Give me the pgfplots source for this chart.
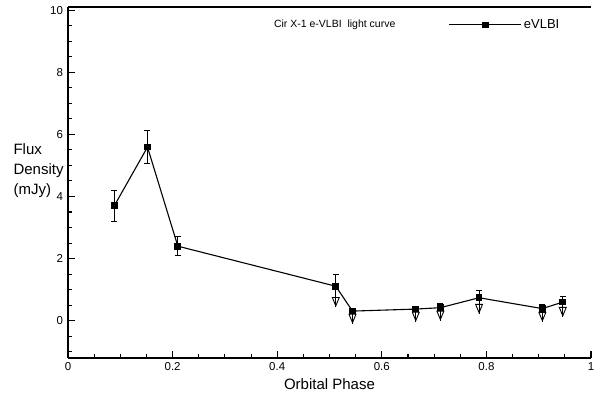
\documentclass[border=0pt]{standalone}
\usepackage{pgfplots}
\pgfplotsset{compat=1.18}
\usepackage{pgfplotstable}
\usepackage{fontspec}
\setmainfont{Liberation Sans}
\usetikzlibrary{arrows.meta}

\pgfplotstableread{
x      y     ep    em
0.0885 3.70  0.50  0.52
0.152  5.59  0.54  0.54
0.210  2.40  0.30  0.31
0.512  1.11  0.37  0.67
0.544  0.31  0.00  0.41
0.665  0.375 0.09  0.41
0.712  0.42  0.13  0.42
0.786  0.74  0.25  0.52
0.907  0.39  0.12  0.43
0.946  0.60  0.19  0.48
}\fluxdata

\pgfplotstableread{
x      y     ep    em
0.0885 3.70  0.50  0.52
0.152  5.59  0.54  0.54
0.210  2.40  0.30  0.31
}\symerr

\pgfplotstableread{
x      y     ep
0.512  1.11  0.37
0.665  0.375 0.09
0.712  0.42  0.13
0.786  0.74  0.25
0.907  0.39  0.12
0.946  0.60  0.19
}\upperr

\pgfplotstableread{
x      y     em
0.512  1.11  0.67
0.544  0.31  0.41
0.665  0.375 0.41
0.712  0.42  0.42
0.786  0.74  0.52
0.907  0.39  0.43
0.946  0.60  0.48
}\limerr

\newcommand{\tl}[1]{\mbox{\fontsize{11.5bp}{13bp}\selectfont #1}}

\begin{document}
\begin{tikzpicture}
\useasboundingbox (-68bp,-49bp) rectangle (526bp,358bp);
\begin{axis}[
  scale only axis,
  width=523bp, height=351bp,
  xmin=0, xmax=1, ymin=-1.2, ymax=10.1,
  axis x line*=box, axis y line*=left,
  axis line style={line width=1.8bp, -},
  xtick={0,0.2,0.4,0.6,0.8,1},
  xticklabels={\tl{0},\tl{0.2},\tl{0.4},\tl{0.6},\tl{0.8},\tl{1}},
  minor xtick={0.05,0.1,0.15,0.25,0.3,0.35,0.45,0.5,0.55,0.65,0.7,0.75,0.85,0.9,0.95},
  ytick={0,2,4,6,8,10},
  yticklabels={\tl{0},\tl{2},\tl{4},\tl{6},\tl{8},\tl{10}},
  minor ytick={-1,-0.5,0.5,1,1.5,2.5,3,3.5,4.5,5,5.5,6.5,7,7.5,8.5,9,9.5},
  xtick pos=bottom, ytick pos=left,
  tick align=inside,
  major tick length=7bp, minor tick length=4bp,
  every tick/.style={black, line width=1.1bp},
  xticklabel style={yshift=-1bp},
  yticklabel style={xshift=-1.5bp},
  xlabel={Orbital Phase},
  xlabel style={font=\fontsize{15bp}{17bp}\selectfont, yshift=-1bp},
  legend style={at={(rel axis cs:0.722,0.949)}, anchor=west, draw=none, fill=none,
    font=\fontsize{13bp}{15bp}\selectfont},
  legend image code/.code={\draw[mark repeat=2,mark phase=2] plot coordinates {(0bp,0bp) (36bp,0bp) (72bp,0bp)};},
  clip=false,
]
\addplot[black, line width=1.1bp, mark=square*, mark size=2.8bp, mark options={solid}]
  table[x=x, y=y] {\fluxdata};
\addlegendentry{eVLBI}

\addplot[draw=none, forget plot,
  error bars/.cd, y dir=both, y explicit,
  error bar style={black, line width=0.9bp},
  error mark options={black, line width=0.9bp, mark size=3bp, rotate=90}]
  table[x=x, y=y, y error plus=ep, y error minus=em] {\symerr};

\addplot[draw=none, forget plot,
  error bars/.cd, y dir=plus, y explicit,
  error bar style={black, line width=0.9bp},
  error mark options={black, line width=0.9bp, mark size=3bp, rotate=90}]
  table[x=x, y=y, y error plus=ep] {\upperr};

\addplot[draw=none, forget plot,
  error bars/.cd, y dir=minus, y explicit,
  error mark=none,
  error bar style={black, line width=0.9bp}]
  table[x=x, y=y, y error minus=em] {\limerr};

\addplot[draw=none, forget plot,
  error bars/.cd, y dir=minus, y explicit,
  error mark=none,
  error bar style={black, line width=0.9bp, -{Triangle[open, width=8bp, length=10bp, line width=0.9bp]}}]
  table[x=x, y=y, y error minus=em] {\limerr};

\node[font=\fontsize{10.5bp}{12bp}\selectfont] at (rel axis cs:0.51,0.949) {Cir X-1 e-VLBI\ \ light curve};
\node[anchor=west, align=left, font=\fontsize{15bp}{20bp}\selectfont] at (rel axis cs:0,0.533) [xshift=-58bp] {Flux\\Density\\(mJy)};
\end{axis}
\end{tikzpicture}
\end{document}
